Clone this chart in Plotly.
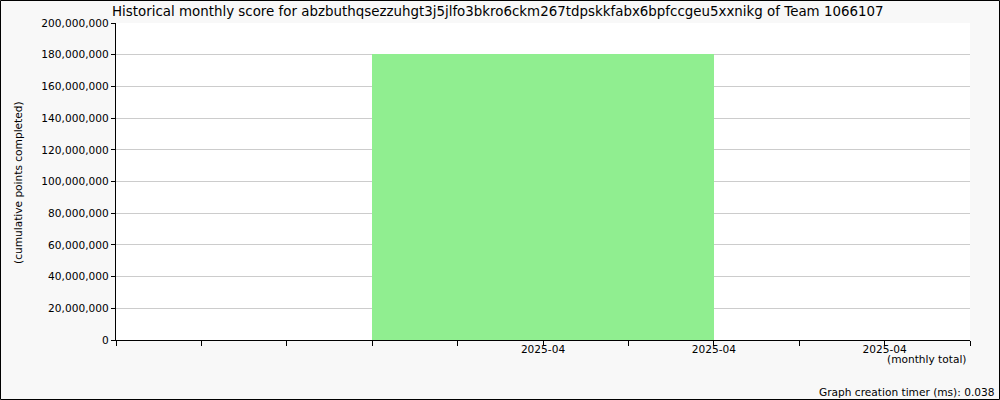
import plotly.graph_objects as go

# ---- data ----
months = ["2025-04"]
scores = [180700000]
bar_center = [5]
bar_span = [4]
x_tick_positions = list(range(11))
x_tick_labels = ["", "", "", "", "", "2025-04", "", "2025-04", "", "2025-04", ""]
y_ticks = list(range(0, 200000001, 20000000))

title_text = "Historical monthly score for abzbuthqsezzuhgt3j5jlfo3bkro6ckm267tdpskkfabx6bpfccgeu5xxnikg of Team 1066107"

W, H = 1000, 400
L, R, T, B = 116, 30, 23, 60
PW, PH = W - L - R, H - T - B

def px_x(px):
    return (px - L) / PW

def px_y(py):
    return (H - B - py) / PH

FONT = "DejaVu Sans"

fig = go.Figure()
fig.add_trace(go.Bar(
    x=bar_center, y=scores, width=bar_span,
    marker=dict(color="#90ee90", line=dict(width=0)),
    hovertext=months, showlegend=False,
))

fig.update_layout(
    width=W, height=H,
    margin=dict(l=L, r=R, t=T, b=B, autoexpand=False),
    paper_bgcolor="#f8f8f8",
    plot_bgcolor="#ffffff",
    font=dict(family=FONT, size=10.6, color="#000000"),
    bargap=0,
    xaxis=dict(
        range=[0, 10], tickmode="array",
        tickvals=x_tick_positions, ticktext=x_tick_labels,
        ticks="outside", ticklen=5, tickcolor="#000000", tickwidth=1,
        ticklabelstandoff=-6,
        showline=True, linecolor="#000000", linewidth=1.2,
        showgrid=False, zeroline=False, fixedrange=True,
    ),
    yaxis=dict(
        range=[0, 200000000], tickmode="array", tickvals=y_ticks,
        tickformat=",d",
        ticks="outside", ticklen=4, tickcolor="#000000", tickwidth=1,
        showline=True, linecolor="#000000", linewidth=1.2,
        showgrid=True, gridcolor="#cccccc", gridwidth=1,
        zeroline=False, fixedrange=True,
    ),
)

annotations = [
    dict(text=title_text, x=px_x(110), y=px_y(11), xanchor="left", yanchor="middle",
         font=dict(size=13.4, family=FONT)),
    dict(text="(cumulative points completed)", x=px_x(18), y=px_y(183), textangle=-90,
         xanchor="center", yanchor="middle", font=dict(size=10.6, family=FONT)),
    dict(text="(monthly total)", x=px_x(968), y=px_y(359), xanchor="right", yanchor="middle",
         font=dict(size=10.6, family=FONT)),
    dict(text="Graph creation timer (ms): 0.038", x=px_x(997), y=px_y(392), xanchor="right",
         yanchor="middle", font=dict(size=10.6, family=FONT)),
]
for a in annotations:
    a.update(xref="paper", yref="paper", showarrow=False)
fig.update_layout(annotations=annotations)

fig.add_shape(type="rect", xref="paper", yref="paper",
              x0=px_x(0.5), x1=px_x(W - 0.5), y0=px_y(H - 0.5), y1=px_y(0.5),
              line=dict(color="#000000", width=1), fillcolor="rgba(0,0,0,0)", layer="above")

fig.write_html("out.html", config=dict(displayModeBar=False),
               post_script="document.body.style.margin='0';document.body.style.overflow='hidden';")
